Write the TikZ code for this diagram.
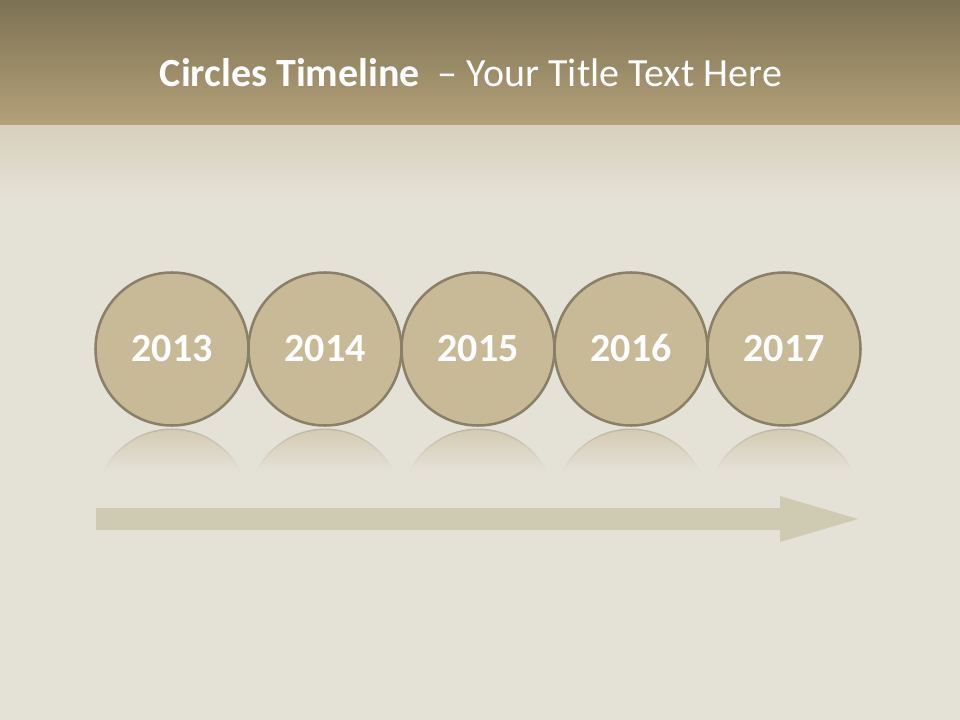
\documentclass[tikz,border=0pt]{standalone}
\usepackage{fontspec}
\setmainfont{Carlito}
\usetikzlibrary{positioning,calc}
\definecolor{linen}{RGB}{228,225,215}
\definecolor{bannertop}{RGB}{125,114,84}
\definecolor{bannerbot}{RGB}{180,161,121}
\definecolor{bannerfade}{RGB}{216,208,188}
\definecolor{circfill}{RGB}{201,186,151}
\definecolor{circline}{RGB}{138,128,104}
\definecolor{arrowfill}{RGB}{207,203,178}

\begin{document}
\begin{tikzpicture}[
    x=0.75pt, y=-0.75pt,
    yearcirc/.style={circle, draw=circline, line width=1.9pt, fill=circfill, minimum size=114.75pt, inner sep=0pt, outer sep=0pt, text=white, text height=19pt, text depth=0pt, font=\fontsize{30}{36}\selectfont\bfseries},
    reflectrim/.style={top color=circline!45!linen, bottom color=linen},
    reflect/.style={top color=circfill!60!linen, bottom color=linen}
]
% background and banner
\fill[linen] (0,0) rectangle (960,720);
\useasboundingbox (0,0) rectangle (960,720);
\shade[top color=bannertop, bottom color=bannerbot] (0,0) rectangle (960,126);
\shade[top color=bannerfade, bottom color=linen] (0,126) rectangle (960,200);

\node[anchor=base, text=white, font=\fontsize{30}{36}\selectfont] (title) at (471,87) {\textbf{Circles Timeline}\ \ – Your Title Text Here};

% year circles
\node[yearcirc] (y2013) at (172,349) {2013};
\node[yearcirc, right=0pt of y2013] (y2014) {2014};
\node[yearcirc, right=0pt of y2014] (y2015) {2015};
\node[yearcirc, right=0pt of y2015] (y2016) {2016};
\node[yearcirc, right=0pt of y2016] (y2017) {2017};

% reflections
\foreach \yr in {2013,...,2017}{
  \begin{scope}
    \clip ($(y\yr.south)+(0,80)$) circle (77);
    \shade[reflectrim] ($(y\yr.south)+(-80,2)$) rectangle ($(y\yr.south)+(80,46)$);
    \clip ($(y\yr.south)+(0,80)$) circle (75.5);
    \shade[reflect] ($(y\yr.south)+(-80,2)$) rectangle ($(y\yr.south)+(80,46)$);
  \end{scope}
}

% timeline arrow
\fill[arrowfill] (96,508) -- (780,508) -- (780,496) -- (858,519) -- (780,542) -- (780,530) -- (96,530) -- cycle;
\end{tikzpicture}
\end{document}
